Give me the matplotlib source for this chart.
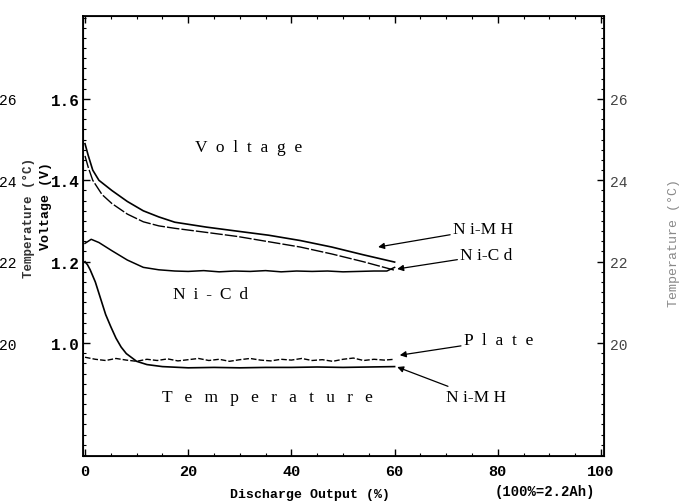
import numpy as np
import matplotlib
matplotlib.use("Agg")
import matplotlib.pyplot as plt
from matplotlib.ticker import MultipleLocator, FixedLocator

# ---- data -------------------------------------------------------------
x_nimh_v = [0, 0.6, 1.5, 2.7, 5.2, 8.2, 11.3, 14.3, 17.4, 23.5, 29.5, 35.6, 41.7, 47.8, 53.9, 60]
v_nimh = [1.49, 1.462, 1.425, 1.400, 1.375, 1.348, 1.325, 1.310, 1.297, 1.285, 1.275,
          1.265, 1.252, 1.236, 1.217, 1.199]

x_nicd_v = [0, 0.6, 1.5, 3.3, 5.2, 8.2, 11.3, 14.3, 17.4, 23.5, 29.5, 35.6, 41.7, 47.8, 53.9, 60]
v_nicd = [1.46, 1.433, 1.400, 1.365, 1.343, 1.317, 1.298, 1.288, 1.282, 1.272, 1.262,
          1.249, 1.236, 1.219, 1.200, 1.179]

x_low_v = [0, 1.2, 2.7, 5.2, 8.2, 11.3, 14.3, 17.4, 20, 23, 26, 29, 32, 35, 38, 41, 44,
           47, 50, 53, 56, 58.5, 60]
v_low = [1.245, 1.255, 1.247, 1.227, 1.204, 1.186, 1.180, 1.177, 1.176, 1.178, 1.175,
         1.177, 1.176, 1.178, 1.175, 1.177, 1.176, 1.177, 1.175, 1.176, 1.177, 1.177, 1.186]

x_nimh_t = [0, 0.5, 1, 2, 3, 4, 5, 6, 7, 8, 10, 12, 15, 20, 25, 30, 35, 40, 45, 50, 55, 60]
t_nimh = [22.0, 21.92, 21.8, 21.5, 21.1, 20.7, 20.4, 20.12, 19.9, 19.74, 19.55, 19.47,
          19.42, 19.39, 19.40, 19.39, 19.40, 19.40, 19.41, 19.40, 19.41, 19.42]

x_plate_t = [0, 2, 4, 6, 8, 10, 12, 14, 16, 18, 20, 22, 24, 26, 28, 30, 32, 34, 36, 38,
             40, 42, 44, 46, 48, 50, 52, 54, 56, 58, 60]
t_plate = [19.65, 19.60, 19.57, 19.62, 19.58, 19.55, 19.60, 19.57, 19.61, 19.56, 19.59,
           19.62, 19.57, 19.60, 19.55, 19.59, 19.62, 19.58, 19.56, 19.60, 19.58, 19.62,
           19.57, 19.59, 19.55, 19.60, 19.63, 19.57, 19.60, 19.58, 19.60]

x_ticks = [0, 20, 40, 60, 80, 100]
v_ticks = [1.0, 1.2, 1.4, 1.6]
t_ticks = [20, 22, 24, 26]


def v_to_t(v):
    return 10.0 * np.asarray(v) + 10.0


def t_to_v(t):
    return (np.asarray(t) - 10.0) / 10.0


def spaced(s, gap):
    return gap.join(s)


# ---- figure -----------------------------------------------------------
fig = plt.figure(figsize=(6.89, 5.02), dpi=100)
ax = fig.add_axes([83 / 689, 1 - 457 / 502, (604 - 83) / 689, (457 - 17) / 502])
ax.set_xlim(-0.39, 100.58)
ax.set_ylim(0.7222, 1.8040)

mono = "Liberation Mono"
serif = "Liberation Serif"

ax.plot(x_nimh_v, v_nimh, color="black", lw=1.2)
ax.plot(x_nicd_v, v_nicd, color="black", lw=1.0, dashes=(9, 1.5))
ax.plot(x_low_v, v_low, color="black", lw=1.1)

ax2 = ax.twinx()
ax2.set_ylim(v_to_t(ax.get_ylim()))
ax2.plot(x_nimh_t, t_nimh, color="black", lw=1.2)
ax2.plot(x_plate_t, t_plate, color="black", lw=1.0, dashes=(4, 1.5))

# ticks
ax.xaxis.set_major_locator(FixedLocator(x_ticks))
ax.xaxis.set_minor_locator(MultipleLocator(5))
ax.yaxis.set_major_locator(FixedLocator(v_ticks))
ax.yaxis.set_minor_locator(MultipleLocator(0.025))
ax2.yaxis.set_major_locator(FixedLocator(t_ticks))
ax2.yaxis.set_minor_locator(MultipleLocator(0.25))
ax.tick_params(which="both", direction="in", top=True, right=False)
ax.tick_params(which="major", length=5, width=1.0)
ax.tick_params(which="minor", length=2.5, width=0.8)
ax2.tick_params(which="major", direction="in", length=5, width=1.0, labelsize=10.5,
                labelcolor="#444444", pad=4)
ax2.tick_params(which="minor", direction="in", length=2.5, width=0.8)
ax.tick_params(axis="x", labelsize=11, pad=6)
ax.tick_params(axis="y", labelsize=11.5, pad=2)
ax.set_yticklabels([f"{v:.1f}" for v in v_ticks])
for lab in ax.get_xticklabels() + ax.get_yticklabels():
    lab.set_fontfamily(mono)
    lab.set_fontweight("bold")
for lab in ax2.get_yticklabels():
    lab.set_fontfamily(mono)
for sp in ax.spines.values():
    sp.set_linewidth(1.3)

# left temperature scale
sec = ax.secondary_yaxis(-0.127, functions=(v_to_t, t_to_v))
sec.set_yticks(t_ticks)
sec.tick_params(length=0, labelsize=10.5, pad=0)
sec.spines["left"].set_visible(False)
for lab in sec.get_yticklabels():
    lab.set_fontfamily(mono)

# axis labels
ax.set_xlabel("Discharge Output (%)", fontfamily=mono, fontweight="bold", fontsize=9.5)
ax.xaxis.set_label_coords(0.435, -0.072)
fig.text(545 / 689, 1 - 492 / 502, "(100%=2.2Ah)", fontfamily=mono, fontweight="bold",
         fontsize=10, ha="center", va="center")
fig.text(46 / 689, 1 - 206 / 502, "Voltage (V)", rotation=90, fontfamily=mono,
         fontweight="bold", fontsize=9.5, ha="center", va="center")
fig.text(29 / 689, 1 - 218 / 502, "Temperature (°C)", rotation=90, fontfamily=mono,
         fontsize=9, fontweight="bold", ha="center", va="center", color="#333333")
fig.text(674 / 689, 1 - 243 / 502, "Temperature (°C)", rotation=90, fontfamily=mono,
         fontsize=9.5, ha="center", va="center", color="#888888")

# in-plot labels
wide = "  \u2009"
tkw = dict(fontfamily=serif, fontsize=12.5, color="black", va="center")
ax.text(21.3, 1.482, spaced("Voltage", "  "), **tkw)
ax.text(24.4, 1.12, spaced("Ni-Cd", " \u2009"), ha="center", **tkw)
ax.text(14.9, 0.867, spaced("Temperature", wide), **tkw)

akw = dict(arrowstyle="-|>", lw=0.9, color="black", shrinkA=0, shrinkB=0,
           mutation_scale=9)
ax.annotate("N i-M H", xy=(56.8, 1.236), xytext=(71.3, 1.28), arrowprops=akw, **tkw)
ax.annotate("N i-C d", xy=(60.5, 1.182), xytext=(72.7, 1.216), arrowprops=akw, **tkw)
ax.annotate(spaced("Plate", "  "), xy=(61.0, 0.970), xytext=(73.4, 1.007),
            arrowprops=akw, **tkw)
ax.annotate("N i-M H", xy=(60.5, 0.941), xytext=(70.0, 0.867), arrowprops=akw, **tkw)

fig.savefig("out.png", dpi=100)
